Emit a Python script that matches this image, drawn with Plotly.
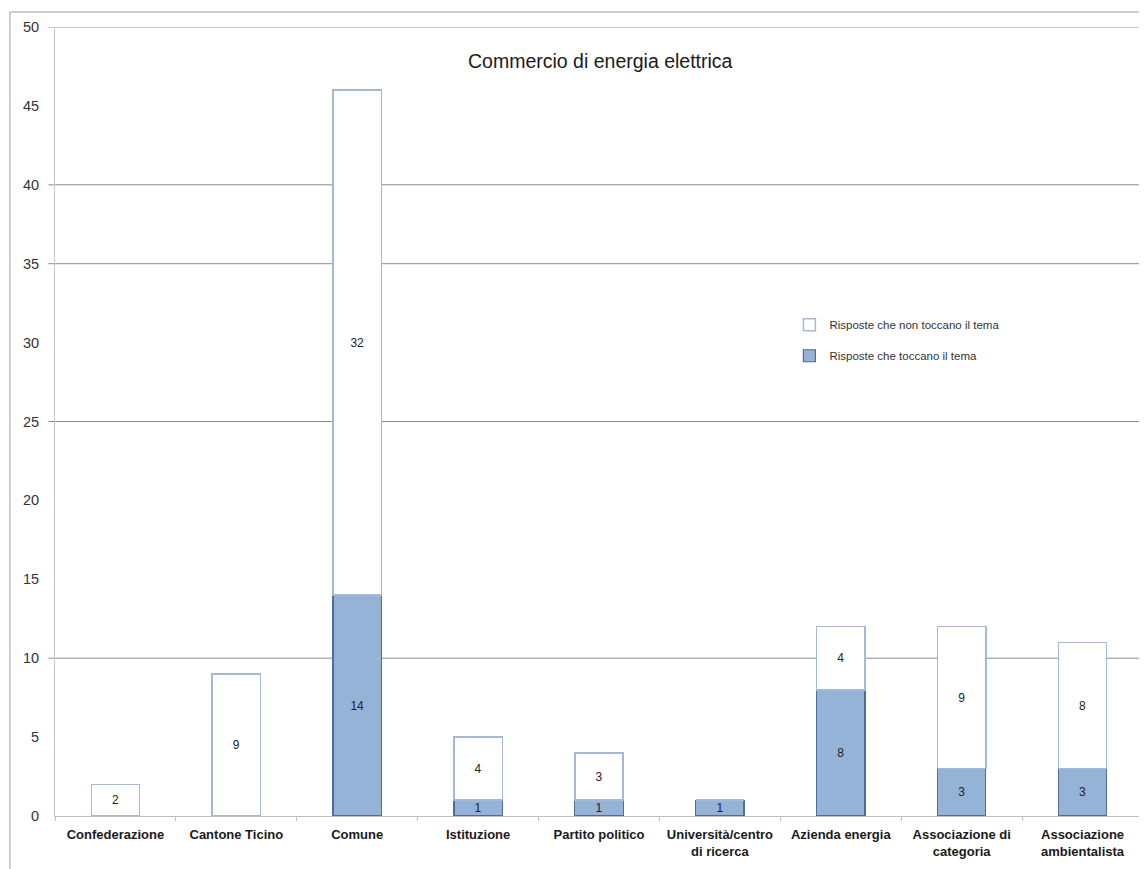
import plotly.graph_objects as go

categories = [
    "Confederazione", "Cantone Ticino", "Comune", "Istituzione", "Partito politico",
    "Università/centro<br>di ricerca", "Azienda energia", "Associazione di<br>categoria",
    "Associazione<br>ambientalista",
]
touching = [0, 0, 14, 1, 1, 1, 8, 3, 3]
not_touching = [2, 9, 32, 4, 3, 0, 4, 9, 8]
gridline_values = [10, 25, 35, 40, 50]
y_ticks = list(range(0, 51, 5))

title_text = "Commercio di energia elettrica"
name_touch = "Risposte che toccano il tema"
name_not = "Risposte che non toccano il tema"

fig = go.Figure()
fig.add_trace(go.Bar(
    x=categories, y=touching, name=name_touch,
    marker=dict(color="#95B3D7", line=dict(color="#4F6E96", width=1.2)),
    text=[str(v) if v else "" for v in touching],
    textposition="inside", insidetextanchor="middle", textangle=0,
    textfont=dict(family="Liberation Sans, Arial", size=12, color="#222"),
    legendgroup="a", legendrank=2, width=0.4,
))
fig.add_trace(go.Bar(
    x=categories, y=not_touching, name=name_not,
    marker=dict(color="#FFFFFF", line=dict(color="#A7B9D2", width=1.5)),
    text=[str(v) if v else "" for v in not_touching],
    textposition="inside", insidetextanchor="middle", textangle=0,
    textfont=dict(family="Liberation Sans, Arial", size=12, color="#222"),
    legendgroup="b", legendrank=1, width=0.4,
))

shapes = []
for g in gridline_values:
    shapes.append(dict(type="line", xref="paper", yref="y", x0=-0.006, x1=1, y0=g, y1=g,
                       line=dict(color="#8C8C8C", width=1), layer="below"))
# outer chart frame
shapes.append(dict(type="line", xref="paper", yref="paper", x0=-0.0414, x1=-0.0414, y0=-0.2, y1=1.019,
                   line=dict(color="#A0A0A0", width=1)))
shapes.append(dict(type="line", xref="paper", yref="paper", x0=-0.0414, x1=1.01, y0=1.019, y1=1.019,
                   line=dict(color="#A0A0A0", width=1)))

fig.update_layout(
    width=1139, height=861,
    margin=dict(l=47, r=4, t=19, b=53),
    paper_bgcolor="white", plot_bgcolor="white",
    barmode="stack",
    showlegend=True,
    legend=dict(x=0.675, y=0.641, xanchor="left", yanchor="top", traceorder="grouped",
                tracegroupgap=12, font=dict(family="Liberation Sans, Arial", size=11.5, color="#333"),
                itemwidth=30, bgcolor="rgba(0,0,0,0)"),
    uniformtext=dict(minsize=12, mode="show"),
    shapes=shapes,
    annotations=[dict(text=title_text, xref="paper", yref="paper", x=0.501, y=0.974,
                      showarrow=False, font=dict(family="Liberation Sans, Arial", size=19.5, color="#1a1a1a"))],
    font=dict(family="Liberation Sans, Arial"),
)
fig.update_yaxes(range=[0, 50], tickvals=y_ticks, showgrid=False, zeroline=False,
                 showline=True, linecolor="#C8C8C8", linewidth=1,
                 tickfont=dict(size=14.5, color="#333"), ticklabelstandoff=12)
fig.update_xaxes(showline=True, linecolor="#BFBFBF", linewidth=1, showgrid=False,
                 ticks="outside", tickson="boundaries", ticklen=4, tickcolor="#BFBFBF",
                 ticklabelstandoff=6,
                 tickfont=dict(size=13, color="#1a1a1a", weight="bold"))

fig.write_html("out.html")
